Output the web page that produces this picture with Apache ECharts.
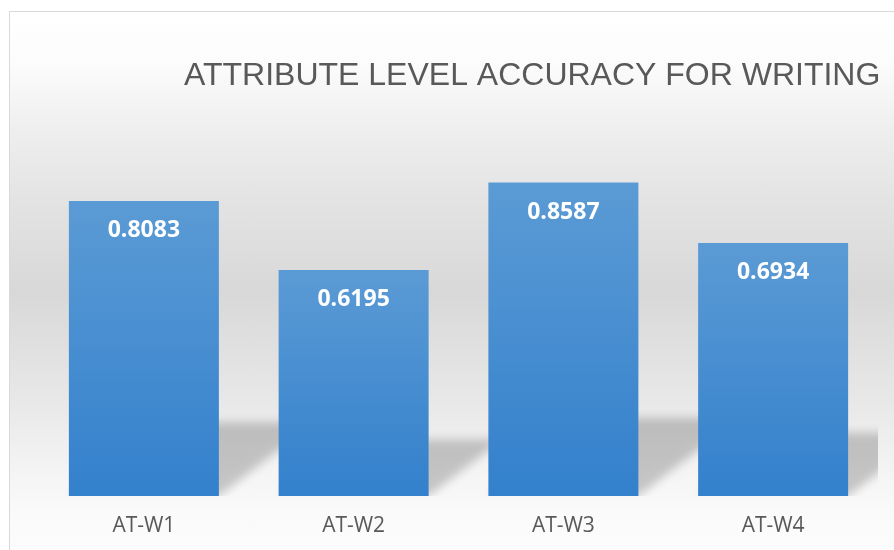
<!DOCTYPE html>
<html>
<head>
<meta charset="utf-8">
<script src="https://cdn.jsdelivr.net/npm/echarts@6/dist/echarts.min.js"></script>
<style>
  html, body { margin: 0; padding: 0; background: #ffffff; }
  .frame {
    position: absolute; left: 9px; top: 11px; width: 900px; height: 560px;
    border: 1px solid #d9d9d9;
    background: linear-gradient(to bottom,
      #ffffff 0px, #fcfcfc 50px, #eeeeee 120px, #e3e3e3 190px,
      #d8d8d8 280px, #e8e8e8 390px, #f4f4f4 460px, #fafafa 500px, #fcfcfc 540px);
  }
  #chart { position: absolute; left: 0; top: 0; width: 894px; height: 550px; }
</style>
</head>
<body>
<div class="frame"></div>
<div id="chart"></div>
<script>
const categories = ["AT-W1", "AT-W2", "AT-W3", "AT-W4"];
const accuracy = [0.8083, 0.6195, 0.8587, 0.6934];

const BAR_W = 150;
const OFF = 3000; // draw shape off-canvas, keep only its blurred shadow

let myChart = echarts.init(document.getElementById("chart"));

let option = {
  animation: false,
  title: {
    text: "ATTRIBUTE LEVEL ACCURACY FOR WRITING",
    left: 179,
    top: 55,
    textStyle: {
      fontFamily: "Liberation Sans",
      fontSize: 32,
      fontWeight: "normal",
      color: "#595959",
    },
  },
  grid: { left: 39, right: 16, top: 131, bottom: 54 },
  xAxis: {
    type: "category",
    data: categories,
    axisLine: { show: false },
    axisTick: { show: false },
    axisLabel: {
      color: "#595959",
      fontFamily: "Open Sans",
      fontSize: 21,
      margin: 20,
    },
  },
  yAxis: {
    type: "value",
    min: 0,
    max: 1,
    show: false,
  },
  series: [
    {
      // floor shadow behind each bar
      type: "custom",
      clip: true,
      z: 1,
      data: accuracy.map((v, i) => [i, v]),
      renderItem: function(params, api) {
        let base = api.coord([api.value(0), 0]);
        let top = api.coord([api.value(0), api.value(1)]);
        let x0 = base[0] - BAR_W / 2;
        let x1 = base[0] + BAR_W / 2;
        let yb = base[1];
        let sh = (yb - top[1]) * 0.25;
        let a = sh * 1.3;
        return {
          type: "polygon",
          shape: {
            points: [
              [x0 - OFF, yb],
              [x1 - OFF, yb],
              [x1 + a - OFF, yb - sh],
              [x0 + a - OFF, yb - sh],
            ],
          },
          style: {
            fill: "#000",
            shadowBlur: 10,
            shadowColor: "rgba(0,0,0,0.2)",
            shadowOffsetX: OFF,
          },
        };
      },
    },
    {
      type: "bar",
      z: 2,
      barWidth: BAR_W,
      data: accuracy,
      itemStyle: {
        color: new echarts.graphic.LinearGradient(0, 0, 0, 1, [
          { offset: 0, color: "#5b9bd5" },
          { offset: 1, color: "#3380cc" },
        ]),
      },
      label: {
        show: true,
        position: "insideTop",
        distance: 18,
        color: "#ffffff",
        fontFamily: "Open Sans",
        fontWeight: "bold",
        fontSize: 23,
        formatter: (p) => p.value.toFixed(4),
      },
    },
  ],
};
myChart.setOption(option);
</script>
</body>
</html>
